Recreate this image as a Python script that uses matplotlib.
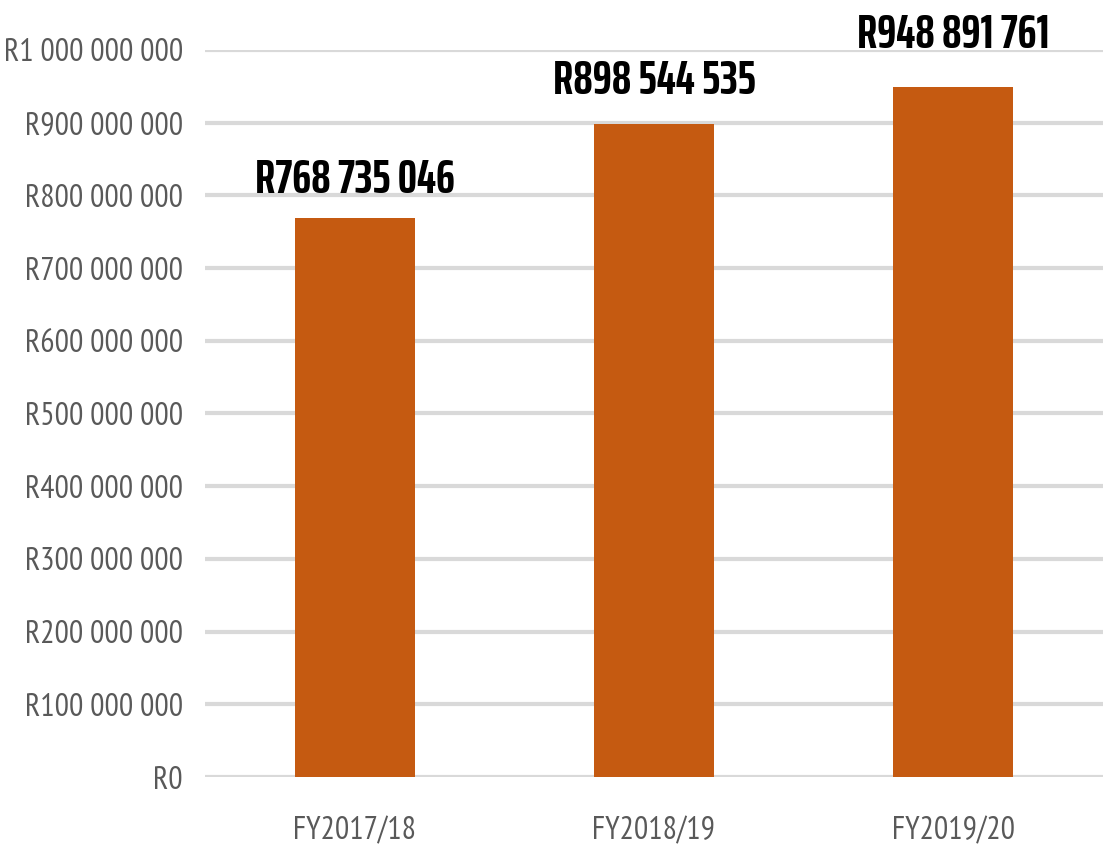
import matplotlib.pyplot as plt
from matplotlib.ticker import FuncFormatter
from matplotlib.textpath import TextPath
from matplotlib.font_manager import FontProperties

# Data
years = ['FY2017/18', 'FY2018/19', 'FY2019/20']
amounts = [768735046, 898544535, 948891761]
ticks = list(range(0, 1000000001, 100000000))

# label gap above each bar (points), as placed in the original
label_gap = [18, 21.5, 28]

bar_color = '#C55A11'
grid_color = '#D9D9D9'
text_grey = '#595959'
tick_font = ['PT Sans Narrow', 'DejaVu Sans']
label_font = ['Saira ExtraCondensed', 'DejaVu Sans']


def rand(v):
    if v == 0:
        return 'R0'
    return 'R' + f'{int(v):,}'.replace(',', ' ')


def size_for(family, weight, px):
    # font size (pt) giving digit height of px pixels at 100 dpi
    h = TextPath((0, 0), '0123456789', size=100,
                 prop=FontProperties(family=family, weight=weight)).get_extents().height
    return px / (h / 100) * 0.72


tick_size = size_for(tick_font[0], 'normal', 23)
label_size = size_for(label_font[0], 'bold', 34)

fig = plt.figure(figsize=(11.03, 8.47), dpi=100)
ax = fig.add_axes([205/1103, 1 - 777/847, 1 - 205/1103, (777 - 50)/847])

x = list(range(len(years)))
ax.bar(x, amounts, width=0.4, color=bar_color, zorder=3)

# Value labels above the bars
for xi, v, g in zip(x, amounts, label_gap):
    ax.annotate(rand(v), xy=(xi, v), xytext=(0, g), textcoords='offset points',
                ha='center', va='baseline', fontsize=label_size, fontweight='bold',
                family=label_font, color='black')

ax.set_xlim(-0.5, 2.5)
ax.set_ylim(0, 1e9)
ax.set_yticks(ticks)
ax.yaxis.set_major_formatter(FuncFormatter(lambda v, p: rand(v)))
ax.set_xticks(x)
ax.set_xticklabels(years)

ax.grid(axis='y', color=grid_color, linewidth=3, zorder=0)
for s in ax.spines.values():
    s.set_visible(False)
ax.tick_params(length=0, colors=text_grey, labelsize=tick_size)
ax.tick_params(axis='y', pad=16)
ax.tick_params(axis='x', pad=28)
for lbl in ax.get_xticklabels() + ax.get_yticklabels():
    lbl.set_family(tick_font)

plt.savefig('out.png', dpi=100)
